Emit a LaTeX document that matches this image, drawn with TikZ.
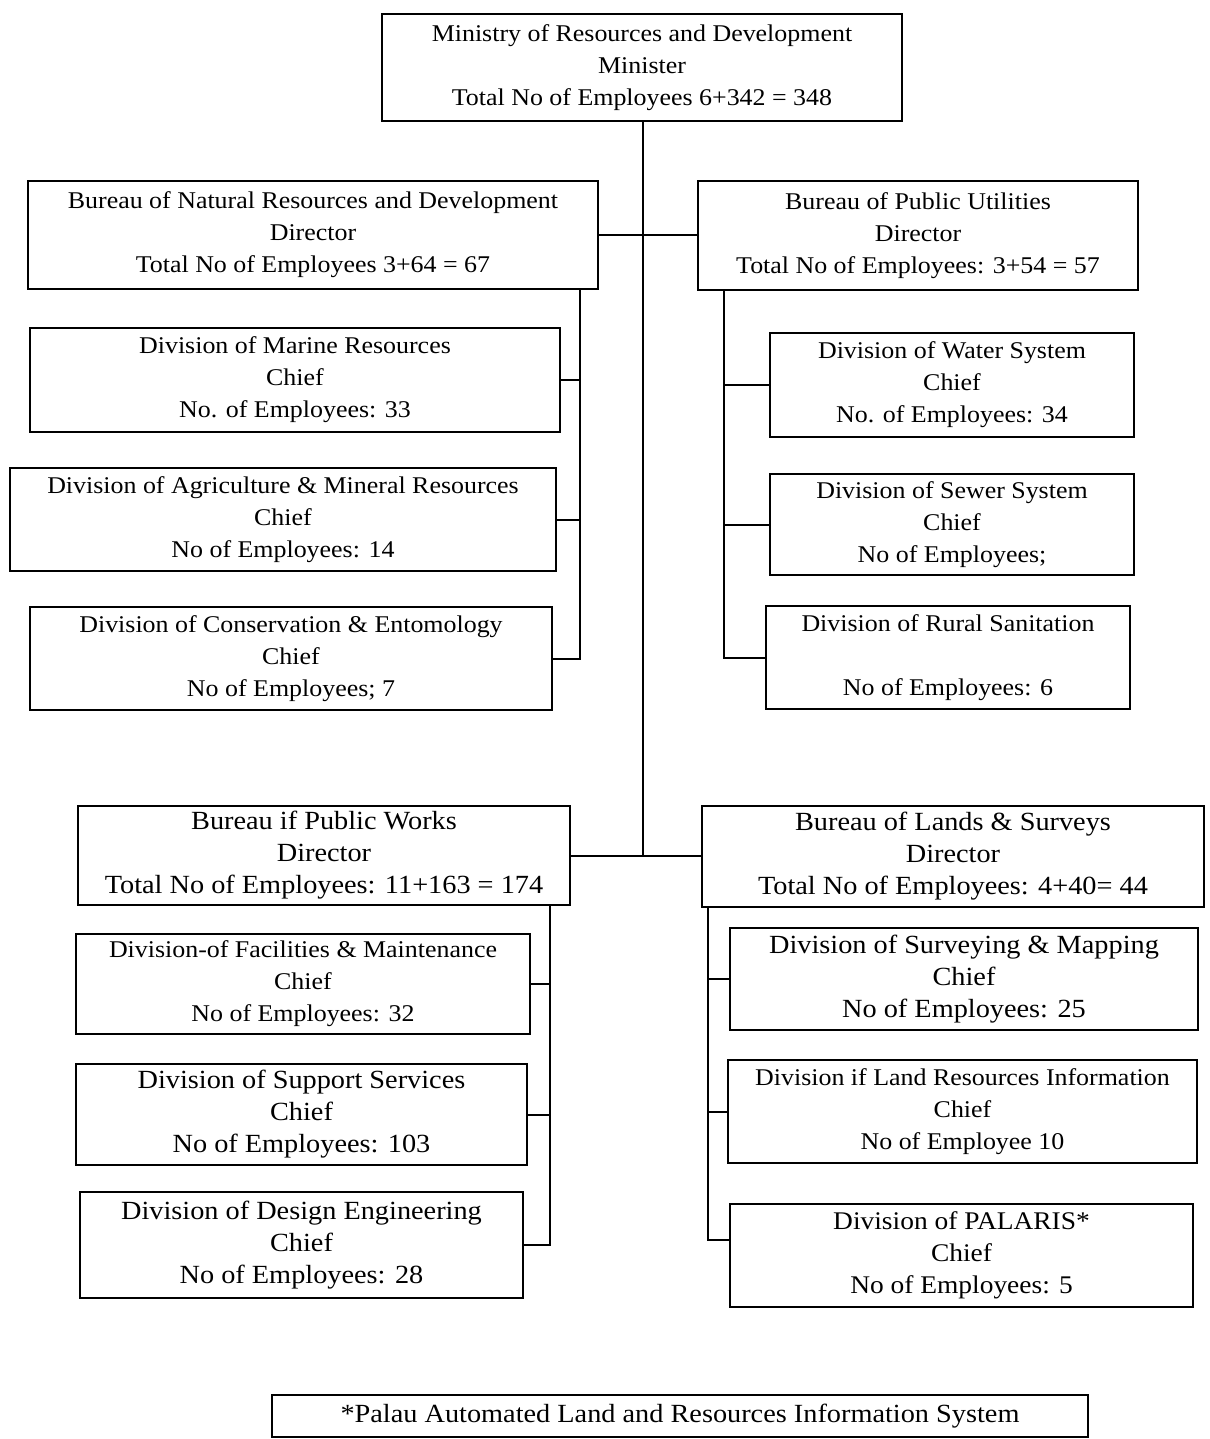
\documentclass[tikz,border=0pt]{standalone}
\usepackage{fontspec}
\setmainfont{Liberation Serif}[FakeStretch=1.08]
\begin{document}
\begin{tikzpicture}[x=0.5pt,y=-0.5pt,
  box/.style={draw, line width=1pt, align=center, inner sep=0pt,
    font=\fontsize{12pt}{16pt}\selectfont},
  bigtxt/.style={font=\fontsize{13.1pt}{16pt}\selectfont},
  conn/.style={line width=1pt}]
\useasboundingbox (0,0) rectangle (1209,1439);
\node[box, minimum width=260pt, minimum height=53.5pt] (m) at (642,67.5)
  {Ministry of Resources and Development\\Minister\\Total No of Employees 6+342 = 348};
\node[box, minimum width=285pt, minimum height=54pt] (bnrd) at (313,235)
  {Bureau of Natural Resources and Development\\Director\\Total No of Employees 3+64 = 67};
\node[box, minimum width=220pt, minimum height=54.5pt] (bpu) at (918,235.5)
  {Bureau of Public Utilities\\Director\\Total No of Employees: 3+54 = 57};
\node[box, minimum width=265pt, minimum height=52pt] (marine) at (295,380)
  {Division of Marine Resources\\Chief\\No. of Employees: 33};
\node[box, minimum width=273pt, minimum height=51.5pt] (agri) at (283,519.5)
  {Division of Agriculture \& Mineral Resources\\Chief\\No of Employees: 14};
\node[box, minimum width=261pt, minimum height=51.5pt] (cons) at (291,658.5)
  {Division of Conservation \& Entomology\\Chief\\No of Employees; 7};
\node[box, minimum width=182pt, minimum height=52pt] (water) at (952,385)
  {Division of Water System\\Chief\\No. of Employees: 34};
\node[box, minimum width=182pt, minimum height=50.5pt] (sewer) at (952,524.5)
  {Division of Sewer System\\Chief\\No of Employees;};
\node[box, minimum width=182pt, minimum height=51.5pt] (rural) at (948,657.5)
  {Division of Rural Sanitation\\\mbox{}\\No of Employees: 6};
\node[box, bigtxt, minimum width=246pt, minimum height=49.5pt] (bpw) at (324,855.5)
  {Bureau if Public Works\\Director\\Total No of Employees: 11+163 = 174};
\node[box, bigtxt, minimum width=251pt, minimum height=50.5pt] (bls) at (953,856.5)
  {Bureau of Lands \& Surveys\\Director\\Total No of Employees: 4+40= 44};
\node[box, minimum width=227pt, minimum height=50pt] (fac) at (303,984)
  {Division-of Facilities \& Maintenance\\Chief\\No of Employees: 32};
\node[box, bigtxt, minimum width=225.5pt, minimum height=50.5pt] (sup) at (301.5,1114.5)
  {Division of Support Services\\Chief\\No of Employees: 103};
\node[box, bigtxt, minimum width=221.5pt, minimum height=53pt] (des) at (301.5,1245)
  {Division of Design Engineering\\Chief\\No of Employees: 28};
\node[box, bigtxt, minimum width=234pt, minimum height=51pt] (surv) at (964,979)
  {Division of Surveying \& Mapping\\Chief\\No of Employees: 25};
\node[box, minimum width=234.5pt, minimum height=51.5pt] (landr) at (962.5,1111.5)
  {Division if Land Resources Information\\Chief\\No of Employee 10};
\node[box, font=\fontsize{12.7pt}{16pt}\selectfont, minimum width=231.5pt, minimum height=51.5pt] (pal) at (961.5,1255.5)
  {Division of PALARIS*\\Chief\\No of Employees: 5};
\node[box, bigtxt, minimum width=408pt, minimum height=21pt] (foot) at (680,1416)
  {*Palau Automated Land and Resources Information System};
% spines
\coordinate (tr) at (643,0);
\coordinate (sn) at (580,0);
\coordinate (su) at (724,0);
\coordinate (sw) at (550,0);
\coordinate (sl) at (708,0);
% trunk
\draw[conn] (m.south -| tr) -- (tr |- bpw.east);
\draw[conn] (bnrd.east) -- (bpu.west |- bnrd.east);
\draw[conn] (bpw.east) -- (bls.west |- bpw.east);
% natural resources
\draw[conn] (bnrd.south -| sn) -- (cons.east -| sn) -- (cons.east);
\draw[conn] (marine.east) -- (marine.east -| sn);
\draw[conn] (agri.east) -- (agri.east -| sn);
% public utilities
\draw[conn] (bpu.south -| su) -- (rural.west -| su) -- (rural.west);
\draw[conn] (water.west) -- (water.west -| su);
\draw[conn] (sewer.west) -- (sewer.west -| su);
% public works
\draw[conn] (bpw.south -| sw) -- (des.east -| sw) -- (des.east);
\draw[conn] (fac.east) -- (fac.east -| sw);
\draw[conn] (sup.east) -- (sup.east -| sw);
% lands
\coordinate (pj) at ([yshift=8pt]pal.west);
\draw[conn] (bls.south -| sl) -- (pj -| sl) -- (pj);
\draw[conn] (surv.west) -- (surv.west -| sl);
\draw[conn] (landr.west) -- (landr.west -| sl);
\end{tikzpicture}
\end{document}
